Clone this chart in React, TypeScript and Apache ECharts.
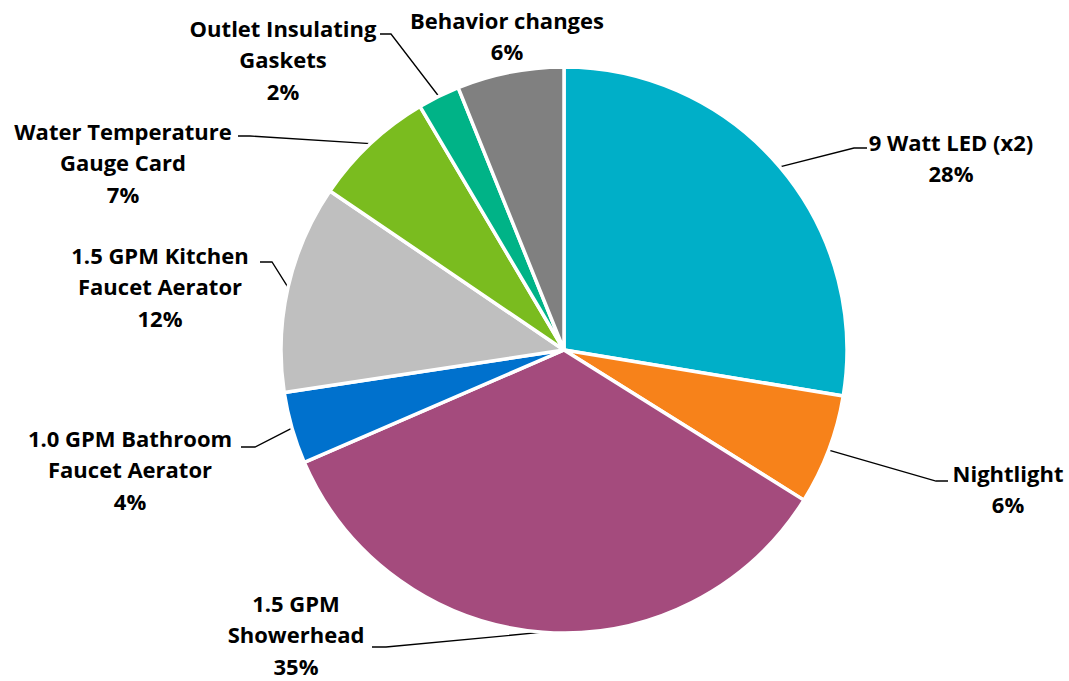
import React, { useEffect, useRef } from "react";
import * as echarts from "echarts";

// Data
const categories = [
  "9 Watt LED (x2)",
  "Nightlight",
  "1.5 GPM Showerhead",
  "1.0 GPM Bathroom Faucet Aerator",
  "1.5 GPM Kitchen Faucet Aerator",
  "Water Temperature Gauge Card",
  "Outlet Insulating Gaskets",
  "Behavior changes",
];
const labelTexts = [
  "9 Watt LED (x2)",
  "Nightlight",
  "1.5 GPM\nShowerhead",
  "1.0 GPM Bathroom\nFaucet Aerator",
  "1.5 GPM Kitchen\nFaucet Aerator",
  "Water Temperature\nGauge Card",
  "Outlet Insulating\nGaskets",
  "Behavior changes",
];
const values = [27.6, 6.3, 34.6, 4.1, 11.9, 7.0, 2.4, 6.1];
const colors = [
  "#00AFC8",
  "#F7821A",
  "#A44B7D",
  "#0071CD",
  "#BFBFBF",
  "#7ABC1F",
  "#00B387",
  "#808080",
];

// Label layout (pixel positions of label text: center x, top y) and leader elbows
const labelPos: [number, number][] = [
  [951, 126],
  [1008, 457],
  [296, 587],
  [130, 422],
  [160, 239],
  [123, 115],
  [283, 12],
  [507, 4],
];
// [elbow, end] for leader lines; null = no line
const leaderPts: ([number, number][] | null)[] = [
  [[854, 148], [867, 148]],
  [[936, 481], [948, 481]],
  [[386, 647], [372, 647]],
  [[255, 447], [241, 447]],
  [[272, 262], [260, 262]],
  [[250, 136], [238, 136]],
  [[391, 34], [380, 34]],
  null,
];

export default function App() {
  const ref = useRef<HTMLDivElement>(null);
  useEffect(() => {
    document.body.style.margin = "0";
    const chart = echarts.init(ref.current!, undefined, { renderer: "svg" });
    chart.setOption({
      animation: false,
      backgroundColor: "#ffffff",
      series: [
        {
          type: "pie",
          center: [564, 350],
          radius: 283,
          startAngle: 90,
          clockwise: true,
          avoidLabelOverlap: false,
          itemStyle: { borderColor: "#ffffff", borderWidth: 3.5 },
          label: {
            show: true,
            position: "outside",
            fontFamily: "Open Sans",
            fontWeight: "bold",
            fontSize: 22,
            lineHeight: 31.5,
            color: "#000000",
            formatter: (p: any) =>
              `${labelTexts[p.dataIndex]}\n${Math.round(p.percent)}%`,
          },
          labelLine: {
            show: true,
            lineStyle: { color: "#000000", width: 1.3 },
          },
          labelLayout: (params: any) => {
            const i = params.dataIndex;
            const [x, y] = labelPos[i];
            const res: any = { x, y, align: "center", verticalAlign: "top" };
            const lp = leaderPts[i];
            if (lp && params.labelLinePoints) {
              res.labelLinePoints = [params.labelLinePoints[0], lp[0], lp[1]];
            }
            return res;
          },
          data: categories.map((name, i) => ({
            name,
            value: values[i],
            itemStyle: { color: colors[i] },
            labelLine: { show: leaderPts[i] !== null },
          })),
        },
      ],
    });
    return () => chart.dispose();
  }, []);
  return (
    <div
      ref={ref}
      style={{ position: "absolute", left: 0, top: 0, width: 1069, height: 681 }}
    />
  );
}
